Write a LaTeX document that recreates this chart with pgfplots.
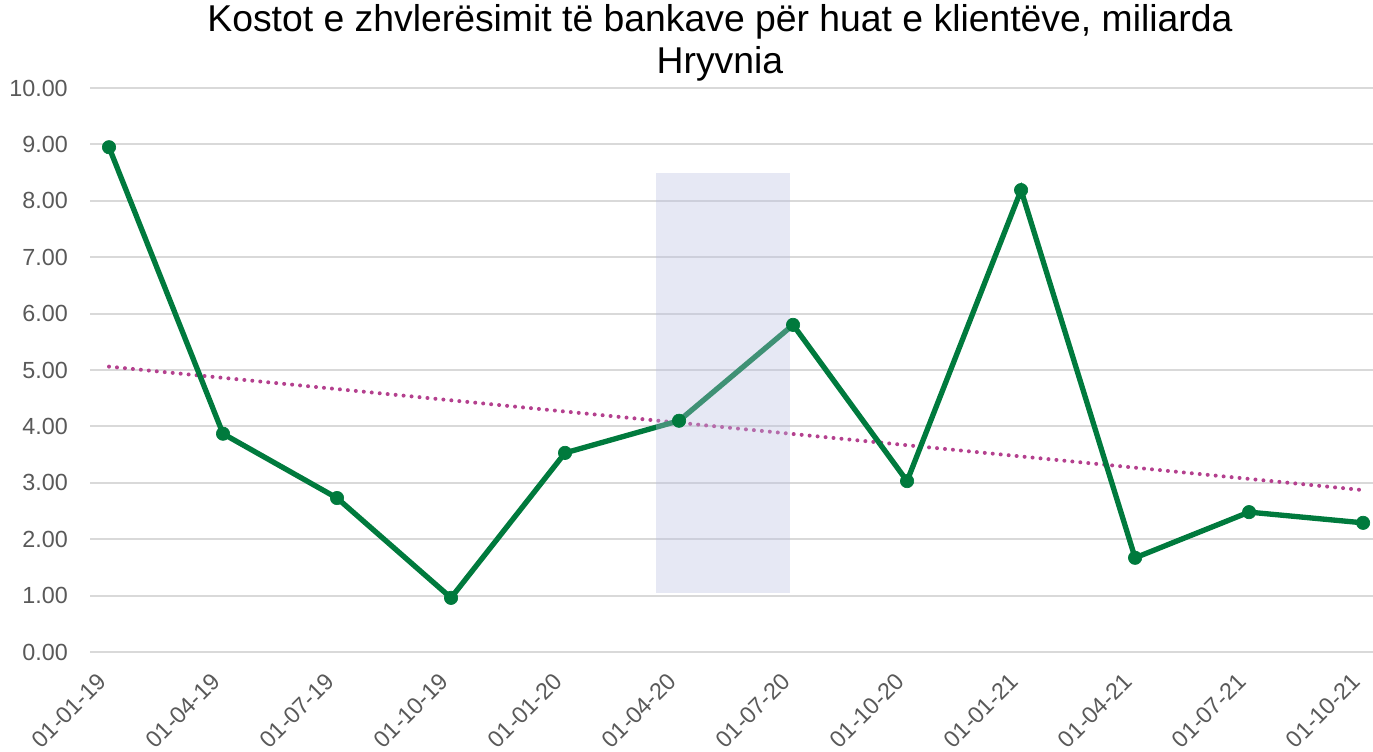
\documentclass[border=0pt]{standalone}
\usepackage{fontspec}
\setmainfont{Liberation Sans}
\usepackage{pgfplots}
\pgfplotsset{compat=1.18}
\definecolor{linegreen}{RGB}{0,122,61}
\definecolor{trendpink}{RGB}{180,64,142}
\definecolor{shade}{RGB}{183,190,223}
\definecolor{gridgray}{RGB}{217,217,217}
\definecolor{ticktext}{RGB}{89,89,89}
\begin{document}
\begin{tikzpicture}
\path[use as bounding box] (-67.5pt,-75pt) rectangle (962.25pt,489pt);
\begin{axis}[
  scale only axis,
  width=962.25pt, height=423pt,
  xmin=-0.1667, xmax=11.087,
  ymin=0, ymax=10,
  ytick={0,1,2,3,4,5,6,7,8,9,10},
  xtick={0,1,2,3,4,5,6,7,8,9,10,11},
  xticklabels={01-01-19,01-04-19,01-07-19,01-10-19,01-01-20,01-04-20,01-07-20,01-10-20,01-01-21,01-04-21,01-07-21,01-10-21},
  axis line style={draw=none},
  major tick length=0pt,
  ymajorgrids,
  grid style={draw=gridgray, line width=1.5pt},
  /pgf/number format/assume math mode=true,
  /pgf/number format/fixed,
  /pgf/number format/fixed zerofill,
  /pgf/number format/precision=2,
  yticklabel style={font=\fontsize{17.5}{19}\selectfont, text=ticktext, anchor=east, inner sep=0pt, xshift=-16.5pt},
  xticklabel style={font=\fontsize{17.5}{19}\selectfont, text=ticktext, rotate=45, anchor=north east, inner sep=0pt, yshift=-3.5pt, xshift=-17pt},
  title={Kostot e zhvlerësimit të bankave për huat e klientëve, miliarda\\Hryvnia},
  title style={align=center, font=\fontsize{28}{32}\selectfont, at={(0.491,1)}, anchor=south, inner sep=0pt, yshift=-1.5pt},
  clip=false,
]
\addplot[color=trendpink, line width=3pt, line cap=round, dash pattern=on 0pt off 6pt] coordinates {(0,5.06) (11,2.87)};
\addplot[color=linegreen, line width=4pt, mark=*, mark size=5pt, mark options={solid, fill=linegreen, draw=linegreen, line width=0.5pt}] coordinates {
(0,8.95) (1,3.87) (2,2.73) (3,0.96) (4,3.53) (5,4.10) (6,5.80) (7,3.03) (8,8.19) (9,1.67) (10,2.48) (11,2.29)};
\addplot[draw=none, fill=shade, fill opacity=0.35] coordinates {(4.798,1.05) (5.974,1.05) (5.974,8.49) (4.798,8.49)} -- cycle;
\end{axis}
\end{tikzpicture}
\end{document}
